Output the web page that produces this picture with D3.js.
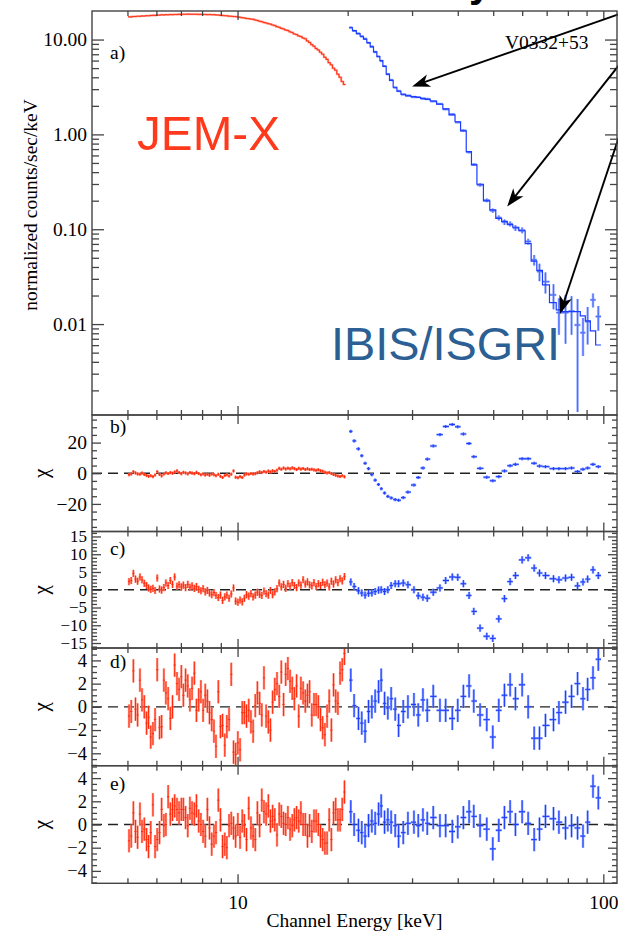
<!DOCTYPE html>
<html>
<head>
<meta charset="utf-8">
<script src="https://cdn.jsdelivr.net/npm/d3@7/dist/d3.min.js"></script>
<style>
  html, body { margin: 0; padding: 0; background: #fff; }
  svg { display: block; }
</style>
</head>
<body>
<svg id="chart" width="618" height="933"></svg>
<script>
// ---------------- data ----------------
// JEM-X channel energies (keV)
const jemxEnergy = [5.05,5.12,5.19,5.26,5.33,5.41,5.48,5.56,5.64,5.71,
  5.79,5.87,5.95,6.03,6.12,6.20,6.29,6.37,6.46,6.55,
  6.64,6.73,6.83,6.92,7.02,7.11,7.21,7.31,7.41,7.51,
  7.62,7.72,7.83,7.94,8.05,8.16,8.27,8.38,8.50,8.62,
  8.73,8.86,8.98,9.10,9.23,9.35,9.48,9.61,9.75,9.88,
  10.02,10.16,10.30,10.44,10.58,10.73,10.88,11.03,11.18,11.33,
  11.49,11.65,11.81,11.97,12.14,12.30,12.47,12.64,12.82,13.00,
  13.17,13.36,13.54,13.73,13.92,14.11,14.30,14.50,14.70,14.90,
  15.11,15.32,15.53,15.74,15.96,16.18,16.40,16.63,16.86,17.09,
  17.33,17.57,17.81,18.05,18.30,18.55,18.81,19.07,19.33,19.60];
// JEM-X normalized counts/sec/keV
const jemxFlux = [17.37,17.30,17.52,17.49,17.62,17.58,17.74,17.70,17.85,17.80,
  17.95,18.02,17.98,18.15,18.10,18.24,18.18,18.30,18.22,18.35,
  18.28,18.40,18.33,18.46,18.38,18.50,18.44,18.55,18.48,18.52,
  18.45,18.50,18.40,18.46,18.36,18.40,18.30,18.36,18.26,18.30,
  18.18,18.14,18.00,17.98,17.84,17.80,17.66,17.62,17.48,17.45,
  17.26,17.18,16.98,16.90,16.70,16.62,16.42,16.35,16.08,15.90,
  15.60,15.45,15.15,14.98,14.72,14.55,14.25,14.03,13.68,13.47,
  13.12,12.95,12.60,12.43,12.06,11.84,11.46,11.28,10.92,10.74,
  10.38,10.20,9.66,9.30,8.84,8.52,8.06,7.78,7.35,7.02,
  6.50,6.18,5.71,5.41,4.99,4.75,4.31,4.01,3.62,3.36];
// JEM-X residuals (chi) for the four models b) - e)
const jemxChiB = [-1.0,-0.5,1.0,0.2,-0.4,-0.6,0.1,-0.8,-1.5,-2.0,
  -1.6,-2.2,-1.2,1.0,-0.8,-1.7,-0.5,0.3,-0.2,0.4,
  0.0,0.8,1.6,0.5,-0.3,0.6,0.2,-0.4,0.5,0.1,
  -0.3,0.6,-0.2,-1.0,-0.4,-1.2,-0.6,-1.3,-0.5,-1.0,
  -1.6,-0.7,-2.0,-2.8,-1.5,-1.0,-1.8,-0.6,1.5,-2.6,
  -2.9,-2.2,-2.8,-1.2,-0.4,-0.6,-0.2,-0.5,-0.3,0.3,
  0.9,0.5,1.1,0.7,1.4,0.9,1.6,1.2,2.0,3.2,
  2.6,3.4,2.8,3.3,2.9,3.5,3.0,2.4,3.2,2.7,
  3.1,2.5,2.9,2.4,2.6,2.2,1.9,2.3,1.6,1.3,
  0.7,0.2,0.5,-0.2,-0.8,-1.3,-1.8,-2.1,-1.6,-2.3];
const jemxChiC = [2.3,2.6,4.6,3.0,2.4,3.6,2.8,1.8,1.2,0.5,
  0.1,0.4,-0.2,3.3,0.2,-0.1,0.6,1.9,1.2,2.6,
  1.5,3.6,1.0,1.4,0.8,1.3,0.6,1.5,0.7,1.1,
  0.4,0.9,0.1,-0.3,0.3,-0.6,-0.2,-0.9,-1.4,-0.8,
  -1.6,-2.2,-1.5,-3.0,-2.0,-1.5,-2.4,-1.2,0.5,-3.2,
  -3.5,-2.9,-3.4,-2.4,-1.4,-1.8,-1.1,-2.0,-1.5,-0.7,
  -1.3,-1.6,-0.4,-1.1,-1.5,-0.2,-1.4,-0.6,0.3,1.9,
  0.8,1.5,0.4,1.7,1.0,2.0,1.2,0.6,1.9,1.3,
  2.8,1.6,2.2,1.4,1.1,2.0,0.9,1.7,1.2,2.1,
  1.4,1.9,0.8,2.4,1.6,2.8,2.0,3.1,2.5,3.7];
const jemxChiD = [-0.8,-0.4,3.1,-0.2,-0.7,2.3,0.6,0.0,-1.4,-0.9,
  -2.6,-2.3,-1.1,3.2,-1.8,-1.7,2.3,1.2,0.7,-1.0,
  0.0,3.6,2.0,1.5,2.6,1.0,2.3,1.8,0.6,1.6,
  2.9,-0.3,0.6,1.3,-0.3,1.0,0.5,-0.5,-1.1,-2.1,
  -3.4,1.3,-1.7,-1.6,-3.3,-1.7,-1.1,2.8,-3.9,-4.1,
  -3.1,-3.7,-0.5,-0.5,-0.8,-0.3,-1.3,-2.1,0.1,1.2,
  0.3,-0.7,2.5,-0.8,-1.3,-2.0,0.4,1.5,2.0,0.9,
  3.0,0.2,2.8,3.3,2.2,1.6,0.7,1.8,-0.8,1.6,
  1.2,0.5,1.0,1.3,-0.7,0.2,0.2,0.0,-1.1,-1.8,
  -2.4,-0.8,0.5,-2.0,1.9,0.5,0.3,2.9,3.2,4.6];
const jemxChiE = [-1.4,-1.0,1.0,-0.6,-1.1,0.9,-0.6,-0.4,-1.3,-1.9,
  -0.7,1.7,-1.9,-1.3,-0.7,1.3,-0.1,0.0,2.4,0.9,
  1.3,1.6,1.3,1.0,1.3,1.3,0.6,-0.1,1.4,1.0,
  0.9,1.6,0.3,0.0,-0.6,-1.0,1.3,-0.3,-1.7,-1.0,
  -0.7,2.1,0.4,-1.9,-1.7,-2.0,-0.1,0.1,-0.3,-1.0,
  0.0,-1.1,0.3,-0.1,-1.3,1.4,-0.3,-1.0,-1.3,1.0,
  -0.1,2.1,1.1,0.9,1.6,0.3,0.7,0.4,-0.9,0.9,
  0.7,0.1,0.0,0.6,-0.4,-0.1,0.4,0.6,0.3,1.0,
  0.0,0.0,-1.0,-0.1,-0.6,0.3,0.3,0.0,-1.0,-1.3,
  -1.6,-1.6,0.4,-1.3,1.0,1.3,0.4,0.4,1.3,2.8];

// IBIS/ISGRI channel energies (keV)
const ibisEnergy = [20.40,20.83,21.41,21.86,22.32,22.81,23.29,23.78,24.30,24.70,
  25.23,25.76,26.30,26.98,27.56,28.38,29.23,30.36,31.19,32.13,
  33.01,34.28,35.76,37.07,38.65,40.00,41.44,42.96,44.25,46.03,
  48.02,49.87,51.79,53.66,55.62,57.51,59.99,62.30,64.71,66.91,
  69.48,73.08,75.62,78.84,81.88,85.04,88.00,90.60,93.72,96.90];
// IBIS/ISGRI measured counts/sec/keV and 1-sigma errors
const ibisFlux = [13.40,12.35,11.60,10.78,10.18,9.22,8.45,7.38,6.64,5.95,
  5.25,4.30,3.74,3.11,2.87,2.63,2.57,2.48,2.47,2.38,
  2.36,2.23,2.10,1.84,1.63,1.34,1.10,0.650,0.482,0.293,
  0.202,0.157,0.132,0.119,0.114,0.103,0.0975,0.0742,0.0475,0.0358,
  0.0280,0.0203,0.0132,0.0132,0.0137,0.00978,0.00811,0.0106,0.0180,0.0120];
const ibisErr = [0.12,0.11,0.10,0.10,0.09,0.09,0.08,0.07,0.07,0.06,
  0.06,0.05,0.05,0.04,0.04,0.04,0.04,0.04,0.04,0.04,
  0.04,0.04,0.04,0.04,0.03,0.03,0.03,0.02,0.015,0.012,
  0.009,0.008,0.008,0.008,0.007,0.007,0.007,0.005,0.006,0.0075,
  0.007,0.006,0.0055,0.007,0.006,0.0086,0.0035,0.0045,0.003,0.0035];
// folded best-fit model, drawn as a histogram
const ibisModel = [13.32,12.42,11.54,10.84,10.12,9.27,8.39,7.43,6.60,5.99,
  5.21,4.33,3.71,3.14,2.85,2.65,2.55,2.50,2.45,2.40,
  2.34,2.25,2.08,1.86,1.61,1.36,1.09,0.657,0.476,0.298,
  0.199,0.160,0.130,0.121,0.112,0.105,0.0964,0.0705,0.0462,0.0369,
  0.0259,0.0168,0.0141,0.0135,0.0135,0.0135,0.0122,0.0108,0.00846,0.00602];
// IBIS/ISGRI residuals (chi)
const ibisChiB = [27.3,21.1,15.9,11.4,6.5,3.0,-0.9,-4.5,-7.3,-10.1,
  -12.9,-15.1,-16.1,-17.2,-17.6,-15.9,-12.3,-7.7,-2.8,3.4,
  9.2,17.8,25.2,30.5,31.8,30.3,25.6,19.4,10.8,3.2,
  -2.6,-4.9,-2.2,1.5,4.9,5.8,9.5,9.5,6.5,4.7,
  4.3,3.0,3.0,3.0,3.4,1.1,2.6,3.4,5.8,4.3];
const ibisChiC = [2.2,0.9,-0.3,-0.9,-1.5,-1.0,-0.9,-0.5,-0.1,0.0,
  -0.5,0.0,1.2,1.7,1.7,1.9,1.4,0.0,-1.7,-2.1,
  -2.4,-0.7,0.5,2.6,3.6,3.5,1.7,-1.6,-6.1,-10.8,
  -13.1,-13.7,-8.2,-2.5,2.3,4.0,8.4,9.0,6.1,4.7,
  4.0,3.1,2.8,3.3,3.5,1.1,2.2,3.0,5.6,4.0];
const ibisChiD = [2.3,0.1,-1.0,-1.4,-2.1,-0.4,0.0,0.5,1.3,2.3,
  0.3,-0.1,0.7,-0.2,-1.6,-0.4,0.0,0.2,-0.7,0.6,
  -0.3,0.9,-0.3,-0.3,-1.0,-0.3,0.9,1.8,0.5,-0.7,
  -1.1,-2.6,-0.3,1.0,1.9,0.7,1.9,0.0,-2.7,-2.7,
  -1.6,-1.1,-0.5,0.4,0.9,2.0,0.7,1.5,2.5,4.1];
const ibisChiE = [1.1,0.0,-0.5,-0.7,-1.0,-0.1,0.3,0.1,0.9,1.6,
  0.2,0.4,0.2,-0.1,-1.0,-0.7,0.1,0.2,-0.1,0.4,
  0.1,0.6,-0.1,-0.1,-0.6,-0.2,0.6,1.1,0.7,-0.1,
  -0.4,-2.1,-0.5,0.6,1.1,0.0,1.1,0.1,-1.3,-0.4,
  0.7,0.5,0.2,-0.3,-0.1,-0.3,-1.0,0.2,3.3,2.3];

// axis ticks and labels
const energyMajor = [10, 100];
const energyMinor = [5, 6, 7, 8, 9, 20, 30, 40, 50, 60, 70, 80, 90];
const fluxMajor = [0.01, 0.1, 1, 10];
const fluxLabels = ["0.01", "0.10", "1.00", "10.00"];
const chiBMajor = [-20, 0, 20];
const chiCMajor = [-15, -10, -5, 0, 5, 10, 15];
const chiDEMajor = [-4, -2, 0, 2, 4];

// cyclotron line markers: arrow tip and tail in (keV, counts) space
const lineArrows = [
  { tip: [30.0, 3.2],    tail: [115, 19.6] },
  { tip: [54.6, 0.174],  tail: [115, 6.57] },
  { tip: [76.1, 0.0128], tail: [115, 1.52] }
];

// ---------------- layout ----------------
const left = 92, right = 617;
const serif = "'Liberation Serif','Times New Roman',Times,serif";
const sans = "'Liberation Sans',Arial,Helvetica,sans-serif";
const frameColor = "#444";
const red = "#ff2a0c", redLight = "#ff8f7e";
const blue = "#1c3cff", blueLight = "#7f99ff";

const panels = [
  { id: "a", top: 11,    bottom: 415 },
  { id: "b", top: 415,   bottom: 531.5 },
  { id: "c", top: 531.5, bottom: 648 },
  { id: "d", top: 648,   bottom: 765.7 },
  { id: "e", top: 765.7, bottom: 883.3 }
];

const svg = d3.select("#chart");
const defs = svg.append("defs");

const x = d3.scaleLog().domain([4, 109]).range([left, right]);
const yA = d3.scaleLog().domain([0.0011, 20]).range([panels[0].bottom, panels[0].top]);
const yB = d3.scaleLinear().domain([-38, 38]).range([panels[1].bottom, panels[1].top]);
const yC = d3.scaleLinear().domain([-16.4, 16.4]).range([panels[2].bottom, panels[2].top]);
const yD = d3.scaleLinear().domain([-5.07, 5.07]).range([panels[3].bottom, panels[3].top]);
const yE = d3.scaleLinear().domain([-5.07, 5.07]).range([panels[4].bottom, panels[4].top]);

panels.forEach(p => {
  defs.append("clipPath").attr("id", "clip-" + p.id)
    .append("rect").attr("x", left).attr("y", p.top)
    .attr("width", right - left).attr("height", p.bottom - p.top);
});

// channel bin edges: geometric midpoints between neighbouring channels
function binEdges(E) {
  const n = E.length;
  return E.map((e, i) => {
    const lo = i > 0 ? Math.sqrt(E[i - 1] * e) : e * Math.sqrt(e / E[1]);
    const hi = i < n - 1 ? Math.sqrt(e * E[i + 1]) : e * Math.sqrt(e / E[n - 2]);
    return [lo, hi];
  });
}
const jemxEdges = binEdges(jemxEnergy);
const ibisEdges = binEdges(ibisEnergy);

function crossPath(E, edges, vals, lows, highs, y) {
  return E.map((e, i) =>
    `M${x(edges[i][0])},${y(vals[i])}H${x(edges[i][1])}` +
    `M${x(e)},${y(lows[i])}V${y(highs[i])}`).join("");
}

function drawCrosses(g, d, light, dark) {
  g.append("path").attr("d", d).attr("fill", "none")
    .attr("stroke", light).attr("stroke-width", 2.4).attr("stroke-opacity", 0.85);
  g.append("path").attr("d", d).attr("fill", "none")
    .attr("stroke", dark).attr("stroke-width", 1);
}

function stepPath(E, edges, vals, y) {
  const pts = E.map((e, i) => [x(edges[i][0]), y(vals[i])]);
  pts.push([x(edges[E.length - 1][1]), y(vals[vals.length - 1])]);
  return d3.line().curve(d3.curveStepAfter)(pts);
}

const minusFmt = d => (d < 0 ? "\u2212" + Math.abs(d) : String(d));

function styleAxis(g, fontSize) {
  g.select(".domain").remove();
  g.attr("font-size", null).attr("font-family", null);
  g.selectAll(".tick line").attr("stroke", frameColor).attr("stroke-width", 1.3);
  g.selectAll(".tick text").attr("font-family", serif)
    .attr("font-size", fontSize || 19.5).attr("fill", "#000");
}

function yAxes(y, major, minor, majorLen, minorLen, fmt, fontSize) {
  svg.append("g").attr("transform", `translate(${left},0)`)
    .call(d3.axisLeft(y).tickValues(major).tickSize(-majorLen).tickPadding(5).tickFormat(fmt))
    .call(styleAxis, fontSize);
  svg.append("g").attr("transform", `translate(${left},0)`)
    .call(d3.axisLeft(y).tickValues(minor).tickSize(-minorLen).tickFormat(""))
    .call(styleAxis);
  svg.append("g").attr("transform", `translate(${right},0)`)
    .call(d3.axisRight(y).tickValues(major).tickSize(-majorLen).tickFormat(""))
    .call(styleAxis);
  svg.append("g").attr("transform", `translate(${right},0)`)
    .call(d3.axisRight(y).tickValues(minor).tickSize(-minorLen).tickFormat(""))
    .call(styleAxis);
}

function xAxes(p, withLabels) {
  svg.append("g").attr("transform", `translate(0,${p.top})`)
    .call(d3.axisTop(x).tickValues(energyMajor).tickSize(-9).tickFormat("")).call(styleAxis);
  svg.append("g").attr("transform", `translate(0,${p.top})`)
    .call(d3.axisTop(x).tickValues(energyMinor).tickSize(-5).tickFormat("")).call(styleAxis);
  svg.append("g").attr("transform", `translate(0,${p.bottom})`)
    .call(d3.axisBottom(x).tickValues(energyMajor).tickSize(-9).tickPadding(11.5)
      .tickFormat(withLabels ? d3.format("d") : "")).call(styleAxis);
  svg.append("g").attr("transform", `translate(0,${p.bottom})`)
    .call(d3.axisBottom(x).tickValues(energyMinor).tickSize(-5).tickFormat("")).call(styleAxis);
}

// ---------------- title strip (runs off the top edge) ----------------
svg.append("text").attr("x", 440).attr("y", -3)
  .attr("font-family", sans).attr("font-weight", "bold").attr("font-size", 40)
  .attr("fill", "#000").text("Cyclotron lines");

// ---------------- panel a: spectrum ----------------
{
  const p = panels[0];
  const g = svg.append("g").attr("clip-path", "url(#clip-a)");
  // JEM-X spectrum
  const jPath = stepPath(jemxEnergy, jemxEdges, jemxFlux, yA);
  g.append("path").attr("d", jPath).attr("fill", "none")
    .attr("stroke", redLight).attr("stroke-width", 2).attr("stroke-opacity", 0.8);
  g.append("path").attr("d", jPath).attr("fill", "none")
    .attr("stroke", red).attr("stroke-width", 1);
  // IBIS/ISGRI data
  const lo = ibisFlux.map((f, i) => Math.max(f - ibisErr[i], 1e-4));
  const hi = ibisFlux.map((f, i) => f + ibisErr[i]);
  drawCrosses(g, crossPath(ibisEnergy, ibisEdges, ibisFlux, lo, hi, yA), blueLight, "#4d6bff");
  // IBIS/ISGRI model histogram
  g.append("path").attr("d", stepPath(ibisEnergy, ibisEdges, ibisModel, yA))
    .attr("fill", "none").attr("stroke", blue).attr("stroke-width", 1.2);

  const minorFlux = [];
  [0.001, 0.01, 0.1, 1].forEach(dec => [2, 3, 4, 5, 6, 7, 8, 9].forEach(k => {
    const v = +(dec * k).toPrecision(3);
    if (v > yA.domain()[0] && v < yA.domain()[1]) minorFlux.push(v);
  }));
  yAxes(yA, fluxMajor, minorFlux, 12, 7, d => fluxLabels[fluxMajor.indexOf(d)]);
  xAxes(p, false);

  svg.append("text").attr("transform", `translate(37,${(p.top + p.bottom) / 2 - 8}) rotate(-90)`)
    .attr("text-anchor", "middle").attr("font-family", serif).attr("font-size", 19.5)
    .text("normalized counts/sec/keV");

  svg.append("text").attr("x", 137).attr("y", 150)
    .attr("font-family", sans).attr("font-size", 49).attr("fill", "#ff3a1c")
    .attr("textLength", 143).attr("lengthAdjust", "spacingAndGlyphs").text("JEM-X");
  svg.append("text").attr("x", 331).attr("y", 360)
    .attr("font-family", sans).attr("font-size", 47).attr("fill", "#2c5f93")
    .attr("textLength", 229).attr("lengthAdjust", "spacingAndGlyphs").text("IBIS/ISGRI");
  svg.append("text").attr("x", 505).attr("y", 49)
    .attr("font-family", serif).attr("font-size", 19.5).attr("fill", "#000").text("V0332+53");

  // arrows pointing at the cyclotron features
  lineArrows.forEach(a => {
    const tx = x(a.tip[0]), ty = yA(a.tip[1]);
    const sx = x(a.tail[0]), sy = yA(a.tail[1]);
    const ang = Math.atan2(ty - sy, tx - sx);
    const back = 10;
    svg.append("line").attr("x1", sx).attr("y1", sy)
      .attr("x2", tx - back * Math.cos(ang)).attr("y2", ty - back * Math.sin(ang))
      .attr("stroke", "#000").attr("stroke-width", 1.9);
    svg.append("path").attr("d", "M0,0L-18,-6.5L-13,0L-18,6.5Z")
      .attr("transform", `translate(${tx},${ty}) rotate(${ang * 180 / Math.PI})`)
      .attr("fill", "#000");
  });

  svg.append("text").attr("x", 110).attr("y", 59)
    .attr("font-family", serif).attr("font-size", 19.5).text("a)");
}

// ---------------- residual panels b) - e) ----------------
function residualPanel(p, y, jChi, iChi, major, minorStep, labelY, fontSize) {
  const g = svg.append("g").attr("clip-path", `url(#clip-${p.id})`);
  g.append("line").attr("x1", left).attr("x2", right).attr("y1", y(0)).attr("y2", y(0))
    .attr("stroke", "#222").attr("stroke-width", 1.3).attr("stroke-dasharray", "10,6");
  drawCrosses(g, crossPath(jemxEnergy, jemxEdges, jChi,
    jChi.map(v => v - 1), jChi.map(v => v + 1), y), redLight, red);
  drawCrosses(g, crossPath(ibisEnergy, ibisEdges, iChi,
    iChi.map(v => v - 1), iChi.map(v => v + 1), y), blueLight, blue);

  const [d0, d1] = y.domain();
  const minor = d3.range(Math.ceil(d0 / minorStep) * minorStep, d1, minorStep)
    .filter(v => !major.includes(+v.toFixed(3)));
  yAxes(y, major, minor, 9, 5, minusFmt, fontSize);
  xAxes(p, p.id === "e");

  svg.append("text").attr("transform", `translate(48,${(p.top + p.bottom) / 2}) rotate(-90)`)
    .attr("text-anchor", "middle").attr("font-family", serif).attr("font-size", 21)
    .text("\u03C7");
  svg.append("text").attr("x", 110).attr("y", labelY)
    .attr("font-family", serif).attr("font-size", 19.5).text(p.id + ")");
}

residualPanel(panels[1], yB, jemxChiB, ibisChiB, chiBMajor, 5, 433, 19.5);
residualPanel(panels[2], yC, jemxChiC, ibisChiC, chiCMajor, 1, 555, 17);
residualPanel(panels[3], yD, jemxChiD, ibisChiD, chiDEMajor, 0.5, 668, 18.5);
residualPanel(panels[4], yE, jemxChiE, ibisChiE, chiDEMajor, 0.5, 790, 18.5);

// panel frames
panels.forEach(p => {
  svg.append("rect").attr("x", left).attr("y", p.top)
    .attr("width", right - left).attr("height", p.bottom - p.top)
    .attr("fill", "none").attr("stroke", frameColor).attr("stroke-width", 1.4);
});

svg.append("text").attr("x", (left + right) / 2).attr("y", 927)
  .attr("text-anchor", "middle").attr("font-family", serif).attr("font-size", 19.5)
  .text("Channel Energy [keV]");
</script>
</body>
</html>
